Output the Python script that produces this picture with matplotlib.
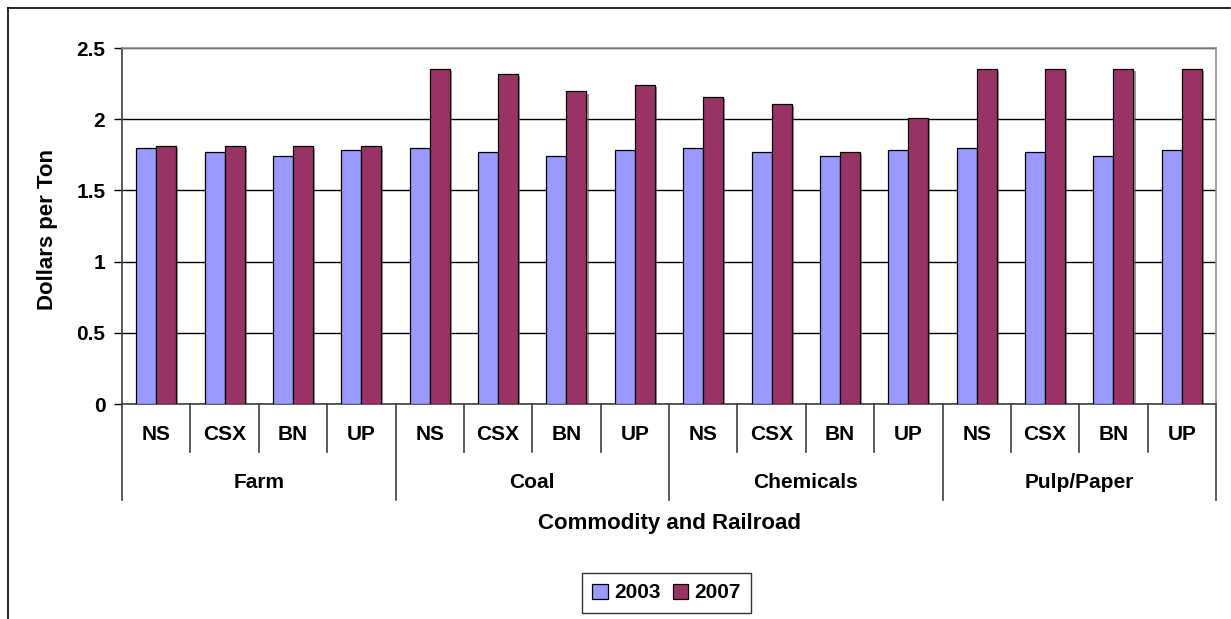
import matplotlib
matplotlib.use("Agg")
import matplotlib.pyplot as plt
from matplotlib.lines import Line2D
from matplotlib.patches import Patch
import matplotlib.patheffects as pe
import numpy as np

groups = ["Farm", "Coal", "Chemicals", "Pulp/Paper"]
railroads = ["NS", "CSX", "BN", "UP"]
series_names = ["2003", "2007"]
values_2003 = [1.80, 1.77, 1.745, 1.785,
               1.80, 1.77, 1.745, 1.785,
               1.80, 1.77, 1.745, 1.785,
               1.80, 1.77, 1.745, 1.785]
values_2007 = [1.815, 1.815, 1.815, 1.815,
               2.35, 2.32, 2.195, 2.24,
               2.155, 2.11, 1.77, 2.01,
               2.35, 2.35, 2.35, 2.35]
yticks = [0, 0.5, 1, 1.5, 2, 2.5]
ytick_labels = ["0", "0.5", "1", "1.5", "2", "2.5"]

plt.rcParams['font.family'] = ['Liberation Sans', 'DejaVu Sans']
plt.rcParams['font.weight'] = 'bold'

FS = 15
W, H = 1231, 619
fig = plt.figure(figsize=(W / 100, H / 100), dpi=100)
L, R, T, B = 122, 1216, 48, 404
ax = fig.add_axes([L / W, 1 - B / H, (R - L) / W, (B - T) / H])

n = len(values_2003)
x = np.arange(n)
bw = 0.293
shadow = [pe.SimplePatchShadow(offset=(1.5, -1.5), shadow_rgbFace='#555555', alpha=0.6), pe.Normal()]
b1 = ax.bar(x - bw / 2, values_2003, bw, color='#9999FF', edgecolor='black', linewidth=0.9, zorder=3)
b2 = ax.bar(x + bw / 2, values_2007, bw, color='#993366', edgecolor='black', linewidth=0.9, zorder=3)
for b in list(b1) + list(b2):
    b.set_path_effects(shadow)

ax.set_xlim(-0.5, n - 0.5)
ax.set_ylim(0, 2.5)
ax.set_yticks(yticks)
ax.set_yticklabels(ytick_labels, fontsize=FS, fontweight='bold')
ax.yaxis.grid(True, color='black', linewidth=1.0, zorder=0)
ax.set_axisbelow(True)
ax.tick_params(axis='y', direction='out', length=6, width=1, pad=6)
ax.set_xticks([])
for s in ['top', 'right']:
    ax.spines[s].set_color('#909090')
    ax.spines[s].set_linewidth(1.2)
ax.spines['left'].set_color('#404040')
ax.spines['bottom'].set_color('#404040')
ax.spines['left'].set_linewidth(1.2)
ax.spines['bottom'].set_linewidth(1.2)

ah = B - T
aw = R - L
def ay(py):
    return (B - py) / ah

ax.set_ylabel("Dollars per Ton", fontsize=16, fontweight='bold')
ax.yaxis.set_label_coords((58 - L) / aw, ay(230))

tr = ax.get_xaxis_transform()
# y axis extension
ax.plot([-0.5, -0.5], [0, ay(500)], transform=tr, color='#404040', lw=1.2, clip_on=False)
nr = len(railroads)
for gi, g in enumerate(groups):
    start = gi * nr - 0.5
    ax.plot([start + nr, start + nr], [0, ay(500)], transform=tr, color='#404040', lw=1.2, clip_on=False)
    for ri in range(1, nr):
        xs = start + ri
        ax.plot([xs, xs], [0, ay(452)], transform=tr, color='#404040', lw=1.2, clip_on=False)
    for ri, r in enumerate(railroads):
        ax.text(start + ri + 0.5, ay(434), r, transform=tr, ha='center', va='center',
                fontsize=FS, fontweight='bold')
    ax.text(start + nr / 2, ay(483), g, transform=tr, ha='center', va='center',
            fontsize=FS, fontweight='bold')

ax.text(0.5, ay(524), "Commodity and Railroad", transform=ax.transAxes, ha='center', va='center',
        fontsize=16, fontweight='bold')

# outer frame
fig.add_artist(Line2D([8 / W, 1230 / W], [1 - 8 / H, 1 - 8 / H], color='black', lw=1.2))
fig.add_artist(Line2D([8 / W, 8 / W], [1 - 8 / H, 0], color='black', lw=1.2))

handles = [Patch(facecolor='#9999FF', edgecolor='black', linewidth=0.9),
           Patch(facecolor='#993366', edgecolor='black', linewidth=0.9)]
leg = fig.legend(handles, series_names, loc='center', bbox_to_anchor=(666.5 / W, 1 - 593 / H),
                 ncol=2, frameon=True, fancybox=False, edgecolor='black',
                 handlelength=0.75, handleheight=0.75, handletextpad=0.3, columnspacing=0.6,
                 borderpad=0.5, prop={'weight': 'bold', 'size': FS})
leg.get_frame().set_linewidth(1.0)

fig.savefig("out.png", dpi=100)
